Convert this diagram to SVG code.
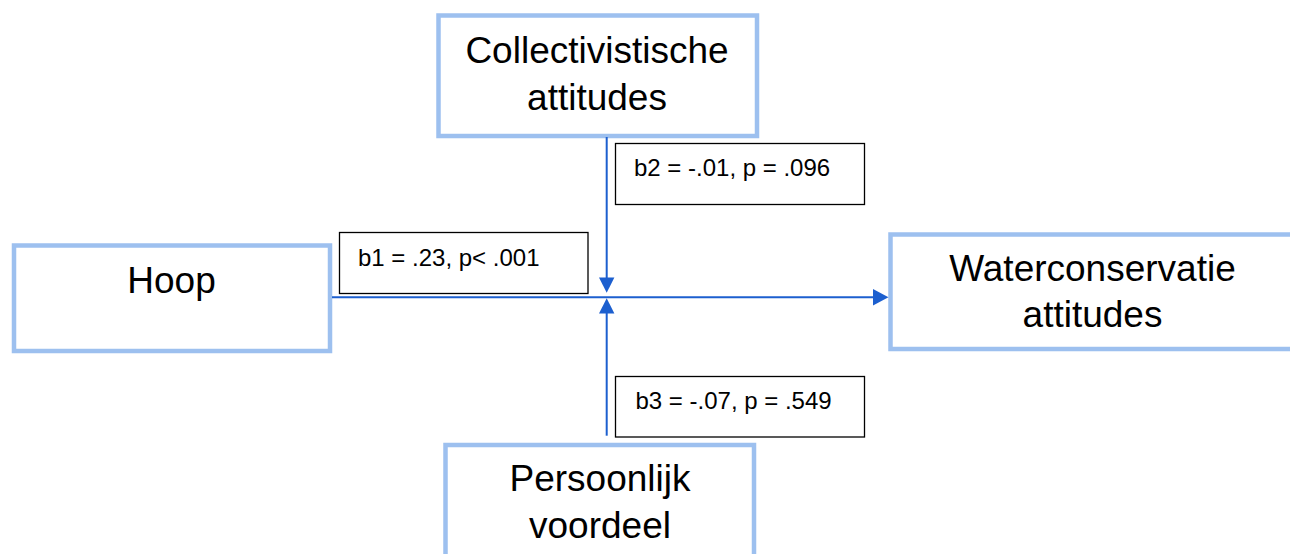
<svg xmlns="http://www.w3.org/2000/svg" width="1290" height="554" viewBox="0 0 1290 554">
<style>
.node{fill:#fff;stroke:#9dc0ef;stroke-width:4.5}
.nt{font-family:"Liberation Sans",Arial,sans-serif;font-size:37px;fill:#000;text-anchor:middle}
.lab{fill:#fff;stroke:#000;stroke-width:1.3}
.lt{font-family:"Liberation Sans",Arial,sans-serif;font-size:24px;fill:#000}
.ln{stroke:#1c5fcf;stroke-width:2;fill:none}
.ah{fill:#1c5fcf}
</style>
<rect width="1290" height="554" fill="#fff"/>
<g id="node-collectivistische">
<rect class="node" x="438.5" y="15.5" width="318.5" height="120.5"/>
<text class="nt" x="597" y="63">Collectivistische</text>
<text class="nt" x="597" y="110">attitudes</text>
</g>
<g id="node-hoop">
<rect class="node" x="14" y="245.5" width="316" height="105.5"/>
<text class="nt" x="171.5" y="293">Hoop</text>
</g>
<g id="node-waterconservatie">
<rect class="node" x="890.5" y="234.5" width="410" height="114.5"/>
<text class="nt" x="1092.5" y="281">Waterconservatie</text>
<text class="nt" x="1092.5" y="327">attitudes</text>
</g>
<g id="node-persoonlijk">
<rect class="node" x="445.5" y="445" width="308.5" height="130"/>
<text class="nt" x="600" y="491">Persoonlijk</text>
<text class="nt" x="600" y="538">voordeel</text>
</g>
<g id="connectors">
<line class="ln" x1="332" y1="297.3" x2="874" y2="297.3"/>
<polygon class="ah" points="873,289 888.5,297.3 873,305.6"/>
<line class="ln" x1="606.7" y1="137" x2="606.7" y2="278.5"/>
<polygon class="ah" points="599,277.5 614.4,277.5 606.7,292.8"/>
<line class="ln" x1="606.7" y1="435.7" x2="606.7" y2="312.5"/>
<polygon class="ah" points="599,313.5 614.4,313.5 606.7,298.2"/>
</g>
<g id="label-b1">
<rect class="lab" x="339.5" y="232.5" width="248.5" height="61"/>
<text class="lt" x="358" y="266">b1 = .23, p&lt; .001</text>
</g>
<g id="label-b2">
<rect class="lab" x="615.5" y="143.5" width="249" height="61"/>
<text class="lt" x="634" y="176">b2 = -.01, p = .096</text>
</g>
<g id="label-b3">
<rect class="lab" x="615.5" y="376.5" width="249" height="60.5"/>
<text class="lt" x="635.5" y="408.5">b3 = -.07, p = .549</text>
</g>
</svg>
